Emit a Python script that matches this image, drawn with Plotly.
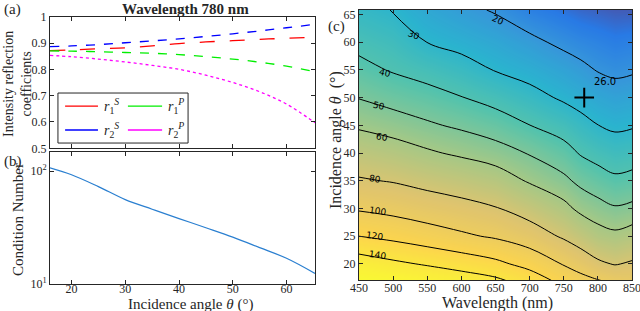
import numpy as np
import plotly.graph_objects as go

# ---------------- data: panel (a) ----------------
angles_a = [16, 20, 25, 30, 35, 40, 45, 50, 55, 60, 65.3]
r1_s = [0.871, 0.874, 0.878, 0.882, 0.889, 0.898, 0.904, 0.909, 0.914, 0.918, 0.922]
r2_s = [0.886, 0.889, 0.894, 0.901, 0.908, 0.916, 0.925, 0.935, 0.946, 0.958, 0.971]
r1_p = [0.870, 0.869, 0.867, 0.864, 0.861, 0.856, 0.848, 0.839, 0.827, 0.812, 0.791]
r2_p = [0.853, 0.848, 0.839, 0.828, 0.815, 0.800, 0.778, 0.750, 0.715, 0.668, 0.597]

# ---------------- data: panel (b) ----------------
condition_number = [107, 93, 73, 56, 46, 38, 31.5, 26, 21, 16.9, 12.4]

# ---------------- data: panel (c) ----------------
wavelengths_nm = [450, 500, 550, 600, 650, 700, 750, 775, 800, 825, 850]
angles_c = [17, 20, 25, 30, 35, 40, 45, 50, 55, 60, 65.8]
cond_row_17 = [167, 163, 157, 151, 144, 131, 114, 106.8, 101, 96, 93]
cond_row_20 = [151, 144, 138, 131.6, 124.5, 113.7, 98.7, 91, 83, 79, 82]
cond_row_25 = [120, 115, 109, 103, 97.7, 89.4, 77.7, 71, 65, 62.6, 65.4]
cond_row_30 = [98, 94.4, 89.7, 85.6, 81, 72.3, 63.4, 57.1, 53.6, 50.9, 52.3]
cond_row_35 = [81.6, 79, 74.7, 71, 66.6, 58.7, 52.2, 47.5, 44.4, 41.8, 42.9]
cond_row_40 = [69.4, 66, 61.6, 58, 54.3, 49.3, 43.6, 39.2, 36.6, 34.7, 35.5]
cond_row_45 = [58.2, 54.9, 51.4, 48.3, 44.8, 40.1, 35.8, 32.7, 30.1, 28.5, 29.2]
cond_row_50 = [49.6, 46.3, 43.5, 40.3, 36.8, 32.9, 28.8, 26.9, 24.8, 23.4, 24.1]
cond_row_55 = [42.8, 39.2, 36.4, 33.3, 29.6, 26.9, 23.6, 21.7, 19.6, 18.5, 19.1]
cond_row_60 = [37.3, 34.8, 29.9, 27.5, 24.8, 21.7, 18.4, 17.0, 16.0, 15.0, 15.5]
cond_row_66 = [32, 29.8, 25, 22, 19.3, 15.6, 13.5, 12.5, 12.0, 11.5, 11.5]
condition_grid = [cond_row_17, cond_row_20, cond_row_25, cond_row_30, cond_row_35,
                  cond_row_40, cond_row_45, cond_row_50, cond_row_55, cond_row_60,
                  cond_row_66]
best_wavelength = [780]
best_angle = [50]
best_value = [26.0]

contour_labels = ["20", "30", "40", "50", "60", "80", "100", "120", "140"]
label_wl = [653, 530, 488, 480, 483, 474, 477, 473, 477]
label_ang = [64.0, 61.3, 54.4, 48.5, 42.9, 35.3, 29.5, 25.0, 21.7]
label_rot = [25, 22, 14, 12, 11, 8, 9, 8, 8]

# ---------------- styling ----------------
FONT = "Liberation Serif"
AXC = "#262626"
W, H = 640, 311
parula = [[0, '#352a87'], [0.125, '#0363e1'], [0.25, '#1485d4'], [0.375, '#06a7c6'],
          [0.5, '#38b99e'], [0.625, '#92bf73'], [0.75, '#d9ba56'], [0.875, '#fcce2e'],
          [1, '#f9fb0e']]


def px(x):
    return x / W


def py(y):
    return 1 - y / H


fig = go.Figure()

# panel (a)
series = [("r1S", r1_s, "#ff0000", "longdash"),
          ("r2S", r2_s, "#0000ff", "dash"),
          ("r1P", r1_p, "#00ee00", "dash"),
          ("r2P", r2_p, "#ff00ff", "dot")]
for name, vals, col, dash in series:
    fig.add_trace(go.Scatter(x=angles_a, y=vals, mode="lines", name=name,
                             line=dict(color=col, width=1.3, dash=dash, shape="spline"),
                             xaxis="x", yaxis="y", showlegend=False))

# panel (b)
fig.add_trace(go.Scatter(x=angles_a, y=condition_number, mode="lines",
                         line=dict(color="#2a7fd0", width=1.2, shape="spline"),
                         xaxis="x2", yaxis="y2", showlegend=False))

# panel (c)
z = np.array(condition_grid, dtype=float)
fig.add_trace(go.Heatmap(x=wavelengths_nm, y=angles_c, z=np.log10(z), zsmooth="best",
                         colorscale=parula, zmin=np.log10(10), zmax=np.log10(170),
                         showscale=False, opacity=0.85, hoverinfo="skip",
                         xaxis="x3", yaxis="y3"))
for start, end, size in [(20, 60, 10), (80, 140, 20)]:
    fig.add_trace(go.Contour(x=wavelengths_nm, y=angles_c, z=z,
                             contours=dict(start=start, end=end, size=size, coloring="none"),
                             line=dict(color="black", width=1, smoothing=1.0),
                             showscale=False, xaxis="x3", yaxis="y3"))
fig.add_trace(go.Scatter(x=best_wavelength, y=best_angle, mode="markers+text",
                         marker=dict(symbol="cross-thin", size=14, line=dict(width=2, color="black")),
                         text=[f"{v:.1f}" for v in best_value], textposition="top right",
                         textfont=dict(family="DejaVu Sans", size=10, color="black"),
                         xaxis="x3", yaxis="y3", showlegend=False))

annotations = []
for t, xw, ya, rot in zip(contour_labels, label_wl, label_ang, label_rot):
    annotations.append(dict(x=xw, y=ya, xref="x3", yref="y3", text=t, showarrow=False,
                            textangle=rot, font=dict(family="DejaVu Sans", size=9, color="black")))

# custom legend for panel (a)
legend_items = [("<i>r</i><sub>1</sub><sup><i>S</i></sup>", "#ff0000", 0.057, 0.181, 0.321),
                ("<i>r</i><sub>1</sub><sup><i>P</i></sup>", "#00ee00", 0.294, 0.423, 0.321),
                ("<i>r</i><sub>2</sub><sup><i>S</i></sup>", "#0000ff", 0.057, 0.181, 0.139),
                ("<i>r</i><sub>2</sub><sup><i>P</i></sup>", "#ff00ff", 0.294, 0.423, 0.139)]
shapes = [dict(type="rect", xref="x domain", yref="y domain", x0=0.030, x1=0.521,
               y0=0.040, y1=0.420, line=dict(color=AXC, width=1), fillcolor="white")]
for txt, col, xa, xb, yy in legend_items:
    shapes.append(dict(type="line", xref="x domain", yref="y domain", x0=xa, x1=xb,
                       y0=yy, y1=yy, line=dict(color=col, width=1.3)))
    annotations.append(dict(x=xb + 0.015, y=yy, xref="x domain", yref="y domain", text=txt,
                            showarrow=False, xanchor="left", yanchor="middle",
                            font=dict(family=FONT, size=14, color=AXC)))


# text labels (positions in reference pixels)
def ann(x, y, text, size=15, angle=0, bold=False, xanchor="center", yanchor="middle"):
    if bold:
        text = "<b>" + text + "</b>"
    annotations.append(dict(x=px(x), y=py(y), xref="paper", yref="paper", text=text,
                            showarrow=False, textangle=angle, xanchor=xanchor, yanchor=yanchor,
                            font=dict(family=FONT, size=size, color=AXC)))


ann(185, 9, "Wavelength 780 nm", size=15, bold=True)
ann(2, 9, "(a)", size=15, xanchor="left")
ann(2, 161, "(b)", size=15, xanchor="left")
ann(326, 26, "(c)", size=15, xanchor="left")
ann(18, 84, "Intensity reflection<br>coefficients", size=14, angle=-90)
ann(18, 220, "Condition Number", size=15, angle=-90)
ann(190, 304, "Incidence angle <i>θ</i> (°)", size=15)
ann(336, 140, "Incidence angle <i>θ</i>  (°)", size=16, angle=-90)
ann(497, 303, "Wavelength (nm)", size=16)

axis_common = dict(showline=True, linecolor=AXC, linewidth=1, mirror="ticks", ticks="inside",
                   ticklen=4, tickcolor=AXC, showgrid=False, zeroline=False, automargin=False,
                   ticklabeloverflow="allow",
                   tickfont=dict(family=FONT, size=12, color=AXC))

fig.update_layout(
    width=W, height=H, autosize=False,
    margin=dict(l=0, r=0, t=0, b=0, pad=0, autoexpand=False),
    paper_bgcolor="white", plot_bgcolor="white", showlegend=False,
    xaxis=dict(domain=[px(50), px(315)], range=[16, 65.3], tickvals=[20, 30, 40, 50, 60],
               showticklabels=False, anchor="y", **axis_common),
    yaxis=dict(domain=[py(148.3), py(16.7)], range=[0.5, 1.0],
               tickvals=[0.5, 0.6, 0.7, 0.8, 0.9, 1.0],
               ticktext=["0.5", "0.6", "0.7", "0.8", "0.9", "1"], anchor="x", **axis_common),
    xaxis2=dict(domain=[px(50), px(315)], range=[16, 65.3], tickvals=[20, 30, 40, 50, 60],
                anchor="y2", ticklabelstandoff=-6, **axis_common),
    yaxis2=dict(domain=[py(284), py(152)], type="log", range=[1, 2.17], tickvals=[10, 100],
                ticktext=["10<sup>1</sup>", "10<sup>2</sup>"], anchor="x2", **axis_common),
    xaxis3=dict(domain=[px(359), px(632)], range=[450, 850],
                tickvals=[450, 500, 550, 600, 650, 700, 750, 800, 850], anchor="y3",
                layer="above traces", ticklabelstandoff=-3, **axis_common),
    yaxis3=dict(domain=[py(280), py(10)], range=[17.1, 65.8],
                tickvals=[20, 25, 30, 35, 40, 45, 50, 55, 60, 65], anchor="x3",
                layer="above traces", **axis_common),
    shapes=shapes, annotations=annotations,
)

fig.write_html("out.html", config={"displayModeBar": False},
               post_script="document.body.style.margin='0';document.body.style.padding='0';")
